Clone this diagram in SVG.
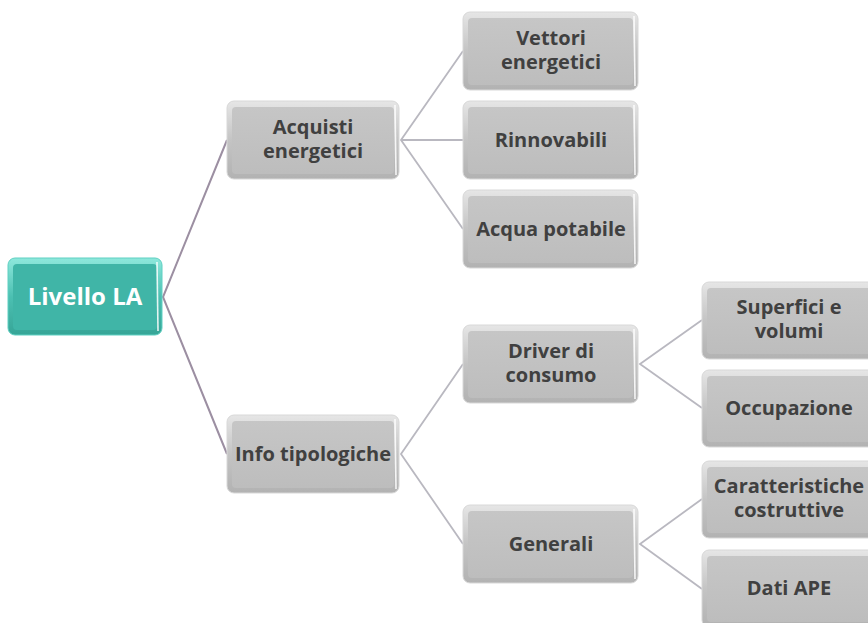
<svg xmlns="http://www.w3.org/2000/svg" width="868" height="623" viewBox="0 0 868 623">
<defs>
<linearGradient id="rimG" x1="0" y1="0" x2="0" y2="1">
<stop offset="0" stop-color="#e6e6e6"/><stop offset="0.5" stop-color="#c4c4c4"/><stop offset="1" stop-color="#b2b2b2"/>
</linearGradient>
<linearGradient id="faceG" x1="0" y1="0" x2="0" y2="1">
<stop offset="0" stop-color="#c6c6c6"/><stop offset="1" stop-color="#bdbdbd"/>
</linearGradient>
<linearGradient id="rimT" x1="0" y1="0" x2="0" y2="1">
<stop offset="0" stop-color="#8ee8dc"/><stop offset="0.5" stop-color="#4cc0b2"/><stop offset="1" stop-color="#36a597"/>
</linearGradient>
<style>
.rim{fill:url(#rimG);stroke:#d8d8d8;stroke-width:1}
.face{fill:url(#faceG)}
.hl{fill:none;stroke:#ffffff;stroke-width:1.6;stroke-opacity:0.85}
.lbl{font-family:"Open Sans","DejaVu Sans",sans-serif;font-weight:bold;font-size:20px;fill:#404040;text-anchor:middle}
.root{font-size:24px;fill:#ffffff}
.c1{stroke:#9c8fa2;stroke-width:2;fill:none}
.c2{stroke:#b9b8c0;stroke-width:1.8;fill:none}
</style>
</defs>
<g id="connectors">
<path class="c1" d="M227,140 L163,297 L227,454"/>
<path class="c2" d="M463,51 L401,140 L463,229 M401,140 L463,140"/>
<path class="c2" d="M463,364 L401,454 L463,544"/>
<path class="c2" d="M702,320 L640,364 L702,408"/>
<path class="c2" d="M702,499 L640,544 L702,589"/>
</g>
<g id="n-root">
<rect x="8" y="258" width="154" height="77" rx="7" fill="url(#rimT)" stroke="#5fd0c2"/>
<rect x="13" y="264" width="144" height="66" rx="4" fill="#40b5a7"/>
<path class="hl" d="M157,262 L158,331"/>
<text class="lbl root" x="85" y="305">Livello LA</text>
</g>
<g id="n-acquisti">
<rect class="rim" x="227" y="101" width="172" height="78" rx="7"/>
<rect class="face" x="232" y="107" width="162" height="67" rx="4"/>
<path class="hl" d="M395,105 L396,175"/>
<text class="lbl" x="313" y="134">Acquisti</text>
<text class="lbl" x="313" y="158">energetici</text>
</g>
<g id="n-info">
<rect class="rim" x="227" y="415" width="172" height="78" rx="7"/>
<rect class="face" x="232" y="421" width="162" height="67" rx="4"/>
<path class="hl" d="M395,419 L396,489"/>
<text class="lbl" x="313" y="461">Info tipologiche</text>
</g>
<g id="n-vettori">
<rect class="rim" x="463" y="12" width="175" height="78" rx="7"/>
<rect class="face" x="468" y="18" width="165" height="67" rx="4"/>
<path class="hl" d="M634,16 L635,86"/>
<text class="lbl" x="551" y="45">Vettori</text>
<text class="lbl" x="551" y="69">energetici</text>
</g>
<g id="n-rinnovabili">
<rect class="rim" x="463" y="101" width="175" height="78" rx="7"/>
<rect class="face" x="468" y="107" width="165" height="67" rx="4"/>
<path class="hl" d="M634,105 L635,175"/>
<text class="lbl" x="551" y="147">Rinnovabili</text>
</g>
<g id="n-acqua">
<rect class="rim" x="463" y="190" width="175" height="78" rx="7"/>
<rect class="face" x="468" y="196" width="165" height="67" rx="4"/>
<path class="hl" d="M634,194 L635,264"/>
<text class="lbl" x="551" y="236">Acqua potabile</text>
</g>
<g id="n-driver">
<rect class="rim" x="463" y="325" width="175" height="78" rx="7"/>
<rect class="face" x="468" y="331" width="165" height="67" rx="4"/>
<path class="hl" d="M634,329 L635,399"/>
<text class="lbl" x="551" y="358">Driver di</text>
<text class="lbl" x="551" y="382">consumo</text>
</g>
<g id="n-generali">
<rect class="rim" x="463" y="505" width="175" height="78" rx="7"/>
<rect class="face" x="468" y="511" width="165" height="67" rx="4"/>
<path class="hl" d="M634,509 L635,579"/>
<text class="lbl" x="551" y="551">Generali</text>
</g>
<g id="n-superfici">
<rect class="rim" x="702" y="282" width="174" height="77" rx="7"/>
<rect class="face" x="707" y="288" width="164" height="66" rx="4"/>
<text class="lbl" x="789" y="314">Superfici e</text>
<text class="lbl" x="789" y="338">volumi</text>
</g>
<g id="n-occupazione">
<rect class="rim" x="702" y="370" width="174" height="77" rx="7"/>
<rect class="face" x="707" y="376" width="164" height="66" rx="4"/>
<text class="lbl" x="789" y="415">Occupazione</text>
</g>
<g id="n-caratteristiche">
<rect class="rim" x="702" y="461" width="174" height="77" rx="7"/>
<rect class="face" x="707" y="467" width="164" height="66" rx="4"/>
<text class="lbl" x="789" y="493">Caratteristiche</text>
<text class="lbl" x="789" y="517">costruttive</text>
</g>
<g id="n-ape">
<rect class="rim" x="702" y="550" width="174" height="77" rx="7"/>
<rect class="face" x="707" y="556" width="164" height="66" rx="4"/>
<text class="lbl" x="789" y="595">Dati APE</text>
</g>
</svg>
